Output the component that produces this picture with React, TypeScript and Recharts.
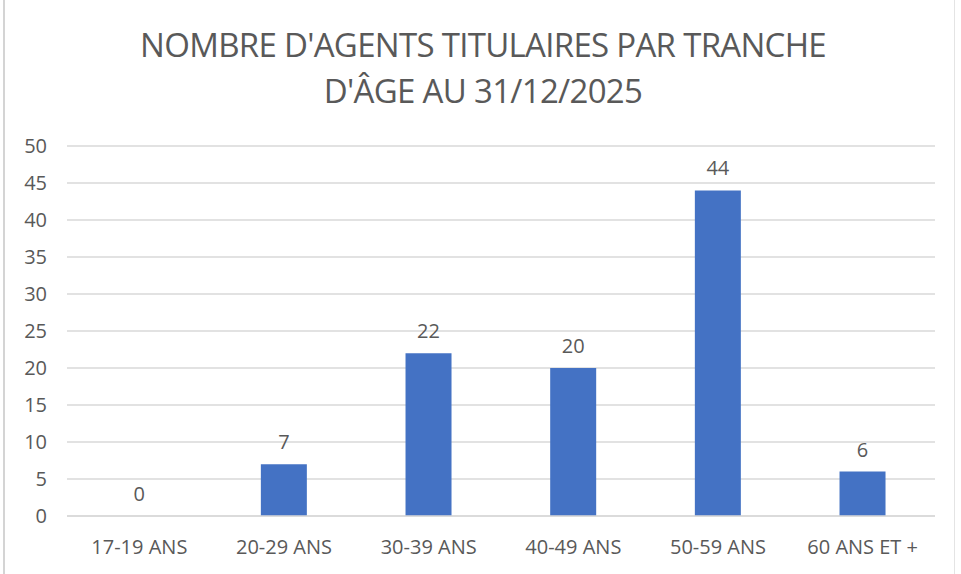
import { BarChart, Bar, XAxis, YAxis, CartesianGrid, LabelList } from "recharts";

const ageGroups = ["17-19 ANS", "20-29 ANS", "30-39 ANS", "40-49 ANS", "50-59 ANS", "60 ANS ET +"];
const agentCounts = [0, 7, 22, 20, 44, 6];
const yTicks = [0, 5, 10, 15, 20, 25, 30, 35, 40, 45, 50];

const data = ageGroups.map((name, i) => ({ name, agents: agentCounts[i] }));

const FONT = "'Open Sans', 'Noto Sans', sans-serif";
const TEXT = "#595959";

export default function App() {
  return (
    <div
      style={{
        position: "absolute",
        left: 0,
        top: 0,
        width: 961,
        height: 574,
        background: "#fff",
        fontFamily: FONT,
        overflow: "hidden"
      }}
    >
      <div
        style={{
          position: "absolute",
          left: 3,
          top: -2,
          width: 949,
          height: 580,
          borderLeft: "2px solid #d4d4d4",
          borderRight: "1px solid #e4e4e4"
        }}
      />
      <div
        style={{
          position: "absolute",
          left: 0,
          top: 22,
          width: 966,
          textAlign: "center",
          color: TEXT,
          fontSize: 33,
          lineHeight: "46px",
          letterSpacing: -0.7
        }}
      >
        NOMBRE D'AGENTS TITULAIRES PAR TRANCHE
        <br />
        D'ÂGE AU 31/12/2025
      </div>
      <BarChart
        width={961}
        height={574}
        data={data}
        margin={{ top: 146, right: 26, left: 0, bottom: 0 }}
        barCategoryGap="34%"
        style={{ position: "absolute", left: 0, top: 0 }}
      >
        <CartesianGrid vertical={false} stroke="#d9d9d9" strokeWidth={1.5} />
        <XAxis
          dataKey="name"
          height={58}
          axisLine={{ stroke: "#d9d9d9", strokeWidth: 1.5 }}
          tickLine={false}
          tickSize={0}
          tickMargin={24}
          tick={{ fill: TEXT, fontSize: 20, fontFamily: FONT }}
          interval={0}
        />
        <YAxis
          width={67}
          domain={[0, 50]}
          ticks={yTicks}
          axisLine={false}
          tickLine={false}
          tickSize={0}
          tickMargin={20}
          tick={{ fill: TEXT, fontSize: 20, fontFamily: FONT }}
        />
        <Bar dataKey="agents" fill="#4472C4" minPointSize={0.01} isAnimationActive={false}>
          <LabelList
            dataKey="agents"
            position="top"
            offset={15}
            fill={TEXT}
            fontSize={20}
            fontFamily={FONT}
          />
        </Bar>
      </BarChart>
    </div>
  );
}
